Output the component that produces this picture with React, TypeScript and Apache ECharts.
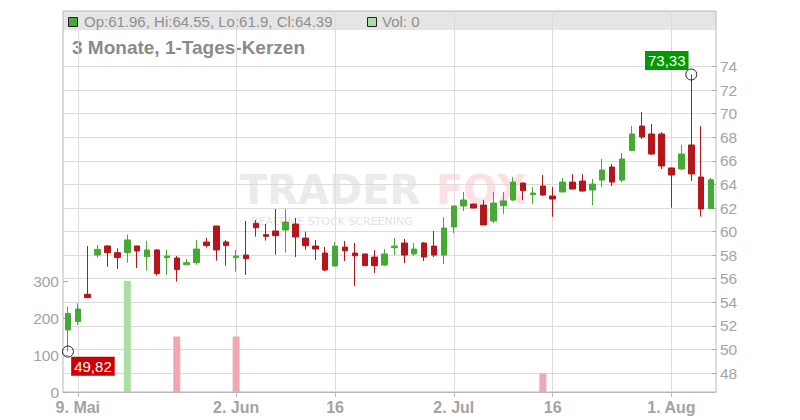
import React, { useEffect, useRef } from "react";
import * as echarts from "echarts";

// ---- data ----
const dates: string[] = [
  "08.05.", "09.05.", "12.05.", "13.05.", "14.05.", "15.05.", "16.05.",
  "19.05.", "20.05.", "21.05.", "22.05.", "23.05.",
  "26.05.", "27.05.", "28.05.", "29.05.", "30.05.",
  "02.06.", "03.06.", "04.06.", "05.06.", "06.06.",
  "09.06.", "10.06.", "11.06.", "12.06.", "13.06.",
  "16.06.", "17.06.", "18.06.", "19.06.", "20.06.",
  "23.06.", "24.06.", "25.06.", "26.06.", "27.06.",
  "30.06.", "01.07.", "02.07.", "03.07.", "04.07.",
  "07.07.", "08.07.", "09.07.", "10.07.", "11.07.",
  "14.07.", "15.07.", "16.07.", "17.07.", "18.07.",
  "21.07.", "22.07.", "23.07.", "24.07.", "25.07.",
  "28.07.", "29.07.", "30.07.", "31.07.", "01.08.",
  "04.08.", "05.08.", "06.08.", "07.08.",
];

const opens: number[] = [
  51.65, 52.36, 54.68, 58.01, 58.78, 58.21, 58.21,
  58.78, 57.87, 58.44, 57.79, 57.76,
  57.19, 57.36, 59.12, 60.47, 59.12,
  57.79, 58.01, 60.70, 59.74, 60.05,
  60.13, 60.64, 59.45, 58.77, 58.18,
  57.08, 58.69, 58.18, 58.10, 57.84,
  57.16, 58.63, 59.03, 58.10, 59.03,
  58.77, 58.01, 60.39, 62.17, 62.34,
  62.25, 60.90, 62.20, 62.68, 64.12,
  63.13, 63.87, 63.02, 63.36, 64.20,
  64.29, 63.53, 64.37, 65.48, 64.37,
  66.87, 68.96, 68.28, 68.28, 65.40,
  65.31, 67.35, 64.63, 61.96,
];
const highs: number[] = [
  53.63, 53.91, 58.78, 58.86, 58.86, 58.58, 59.74,
  58.80, 59.20, 58.52, 58.44, 57.93,
  57.67, 59.29, 59.46, 60.50, 59.29,
  58.44, 60.90, 60.98, 60.64, 61.92,
  61.91, 61.15, 59.99, 59.28, 58.69,
  59.11, 59.20, 59.03, 58.12, 58.43,
  58.52, 59.45, 59.37, 59.03, 59.11,
  60.05, 61.23, 62.17, 63.36, 62.36,
  62.68, 63.36, 63.36, 64.63, 64.14,
  63.78, 64.80, 63.78, 64.55, 64.88,
  64.88, 64.46, 66.16, 65.73, 66.67,
  68.96, 70.15, 69.13, 68.45, 65.42,
  67.35, 73.33, 68.96, 64.55,
];
const lows: number[] = [
  49.82, 52.07, 54.35, 57.79, 57.02, 56.83, 57.36,
  56.91, 56.68, 56.26, 56.32, 55.75,
  57.15, 57.19, 58.64, 57.53, 57.11,
  56.60, 56.32, 59.57, 59.23, 58.04,
  58.21, 57.84, 58.46, 57.59, 56.65,
  57.06, 57.50, 55.38, 57.09, 56.48,
  57.08, 58.01, 57.33, 57.93, 57.50,
  57.84, 57.25, 59.88, 61.74, 61.98,
  60.56, 60.73, 61.50, 62.59, 62.68,
  62.34, 63.02, 61.26, 63.36, 63.59,
  63.40, 62.25, 63.78, 63.87, 64.20,
  66.85, 67.86, 66.50, 65.31, 62.03,
  65.23, 64.29, 61.27, 61.90,
];
const closes: number[] = [
  53.06, 53.43, 54.39, 58.49, 58.21, 57.79, 59.29,
  58.35, 58.44, 56.43, 57.93, 56.77,
  57.36, 58.52, 58.81, 58.44, 58.81,
  57.93, 57.70, 60.33, 59.60, 59.65,
  60.81, 59.54, 58.80, 58.52, 56.74,
  58.77, 58.38, 57.95, 57.11, 57.11,
  58.10, 58.77, 58.01, 58.52, 57.84,
  58.01, 60.30, 62.17, 62.68, 62.00,
  60.56, 62.42, 62.60, 64.20, 63.47,
  63.27, 63.10, 62.76, 64.20, 63.61,
  63.44, 64.03, 65.22, 64.20, 66.16,
  68.28, 68.03, 66.58, 65.57, 64.80,
  66.58, 64.89, 61.92, 64.39,
];
const volumes: number[] = [
  0, 0, 0, 0, 0, 0, 300,
  0, 0, 0, 0, 150,
  0, 0, 0, 0, 0,
  150, 0, 0, 0, 0,
  0, 0, 0, 0, 0,
  0, 0, 0, 0, 0,
  0, 0, 0, 0, 0,
  0, 0, 0, 0, 0,
  0, 0, 0, 0, 0,
  0, 50, 0, 0, 0,
  0, 0, 0, 0, 0,
  0, 0, 0, 0, 0,
  0, 0, 0, 0,
];
const xTickLabels: Record<string, string> = {
  "09.05.": "9. Mai",
  "02.06.": "2. Jun",
  "16.06.": "16",
  "02.07.": "2. Jul",
  "16.07.": "16",
  "01.08.": "1. Aug",
};
const priceMin = 48;
const priceMax = 74;
const priceStep = 2;
const volMin = 0;
const volMax = 300;
const volStep = 100;
const titleText = "3 Monate, 1-Tages-Kerzen";

const FONT = "'Liberation Sans', Arial, sans-serif";
const WM_FONT = "'DejaVu Sans', sans-serif";
const UP = "#47a935";
const DOWN = "#b5161b";
const VOL_UP = "#abdda4";
const VOL_DOWN = "#f0a7b1";
const GRID_L = 63;
const GRID_R = 84;

export default function App() {
  const ref = useRef<HTMLDivElement>(null);

  useEffect(() => {
    if (!ref.current) return;
    const chart = echarts.init(ref.current, null, { renderer: "svg" });
    const last = dates.length - 1;
    const isTick = (_i: number, v: string) => v in xTickLabels;
    const fmtNum = (v: number) => String(v).replace(".", ",");

    const option: any = {
      animation: false,
      backgroundColor: "#ffffff",
      textStyle: { fontFamily: FONT },
      grid: [
        { left: GRID_L, right: GRID_R, top: 11, bottom: 28, show: true, borderColor: "#b9b9b9", borderWidth: 1, backgroundColor: "transparent" },
        { left: GRID_L, right: GRID_R, top: 66.6, bottom: 47 },
        { left: GRID_L, right: GRID_R, top: 281, bottom: 28 },
      ],
      xAxis: [
        {
          gridIndex: 0,
          type: "category",
          data: dates,
          boundaryGap: true,
          axisLine: { show: true, lineStyle: { color: "#b9b9b9" } },
          axisTick: { show: true, alignWithLabel: true, interval: isTick, length: 5, lineStyle: { color: "#b9b9b9" } },
          axisLabel: {
            interval: isTick,
            formatter: (v: string) => xTickLabels[v] || "",
            color: "#a3a3a3",
            fontSize: 16,
            fontWeight: "bold",
            fontFamily: FONT,
            margin: 7,
          },
          splitLine: { show: true, interval: isTick, alignWithLabel: true, lineStyle: { color: "#dcdcdc", width: 1 } },
        },
        { gridIndex: 1, type: "category", data: dates, boundaryGap: true, show: false },
        { gridIndex: 2, type: "category", data: dates, boundaryGap: true, show: false },
      ],
      yAxis: [
        { gridIndex: 0, type: "value", min: 0, max: 1, show: false, splitLine: { show: false } },
        {
          gridIndex: 1,
          type: "value",
          position: "right",
          min: priceMin,
          max: priceMax,
          interval: priceStep,
          axisLine: { show: false },
          axisTick: { show: true, inside: true, length: 4, lineStyle: { color: "#aaaaaa" } },
          axisLabel: { color: "#a3a3a3", fontSize: 15.5, fontFamily: FONT, margin: 4 },
          splitLine: { show: true, lineStyle: { color: "#dcdcdc", width: 1 } },
        },
        {
          gridIndex: 2,
          type: "value",
          position: "left",
          min: volMin,
          max: volMax,
          interval: volStep,
          axisLine: { show: false },
          axisTick: { show: true, inside: true, length: 5, lineStyle: { color: "#aaaaaa" } },
          axisLabel: { color: "#a3a3a3", fontSize: 15.5, fontFamily: FONT, margin: 4 },
          splitLine: { show: false },
        },
      ],
      series: [
        {
          type: "bar",
          xAxisIndex: 2,
          yAxisIndex: 2,
          barWidth: 7,
          data: volumes.map((v, i) => ({
            value: v,
            itemStyle: { color: i > 0 && closes[i] < closes[i - 1] ? VOL_DOWN : VOL_UP },
          })),
          z: 1,
        },
        {
          type: "candlestick",
          xAxisIndex: 1,
          yAxisIndex: 1,
          barWidth: 6,
          data: dates.map((_, i) => [opens[i], closes[i], lows[i], highs[i]]),
          itemStyle: { color: UP, color0: DOWN, borderColor: UP, borderColor0: DOWN, borderWidth: 1 },
          z: 3,
          markPoint: {
            symbol: "circle",
            symbolSize: 11,
            itemStyle: { color: "rgba(255,255,255,0)", borderColor: "#222", borderWidth: 1 },
            label: {
              show: true,
              position: "inside",
              color: "#ffffff",
              fontSize: 15,
              fontFamily: FONT,
              lineHeight: 15,
              padding: [2, 3, 2, 3],
              formatter: (p: any) => fmtNum(p.value),
            },
            data: [
              {
                type: "max",
                valueDim: "highest",
                label: { backgroundColor: "#009a00", offset: [-24.5, -14] },
              },
              {
                type: "min",
                valueDim: "lowest",
                label: { backgroundColor: "#cc0000", offset: [25, 14.7] },
              },
            ],
          },
        },
      ],
      graphic: [
        { type: "rect", z: -5, shape: { x: GRID_L, y: 11, width: 800 - GRID_L - GRID_R, height: 19 }, style: { fill: "#e5e5e5" } },
        { type: "rect", z: -4, shape: { x: 68.5, y: 17.5, width: 9, height: 9 }, style: { fill: UP, stroke: "#222", lineWidth: 1 } },
        {
          type: "text", z: -4, x: 84, y: 21.5,
          style: {
            text: `Op:${opens[last]}, Hi:${highs[last]}, Lo:${lows[last]}, Cl:${closes[last]}`,
            font: `15px ${FONT}`, fill: "#8f8f8f", verticalAlign: "middle",
          },
        },
        { type: "rect", z: -4, shape: { x: 367.5, y: 17.5, width: 9, height: 9 }, style: { fill: VOL_UP, stroke: "#222", lineWidth: 1 } },
        {
          type: "text", z: -4, x: 382, y: 21.5,
          style: { text: `Vol: ${volumes[last]}`, font: `15px ${FONT}`, fill: "#8f8f8f", verticalAlign: "middle" },
        },
        {
          type: "text", z: -4, x: 72, y: 47.5,
          style: { text: titleText, font: `bold 19px ${FONT}`, fill: "#8a8a8a", verticalAlign: "middle" },
        },
        {
          type: "text", z: -6, x: 240, y: 190,
          style: { text: "TRADER", font: `bold 40px ${WM_FONT}`, fill: "#ebebeb", verticalAlign: "middle" },
        },
        {
          type: "text", z: -6, x: 436, y: 190,
          style: { text: "FOX", font: `bold 40px ${WM_FONT}`, fill: "#fde0e4", verticalAlign: "middle" },
        },
        {
          type: "text", z: -6, x: 251, y: 221,
          style: { text: "REALTIME STOCK SCREENING", font: `11px ${WM_FONT}`, fill: "#e3e3e3", verticalAlign: "middle" },
        },
      ],
    };
    chart.setOption(option);
    return () => chart.dispose();
  }, []);

  return (
    <div
      ref={ref}
      style={{ position: "fixed", left: 0, top: 0, width: 800, height: 420, background: "#fff" }}
    />
  );
}
